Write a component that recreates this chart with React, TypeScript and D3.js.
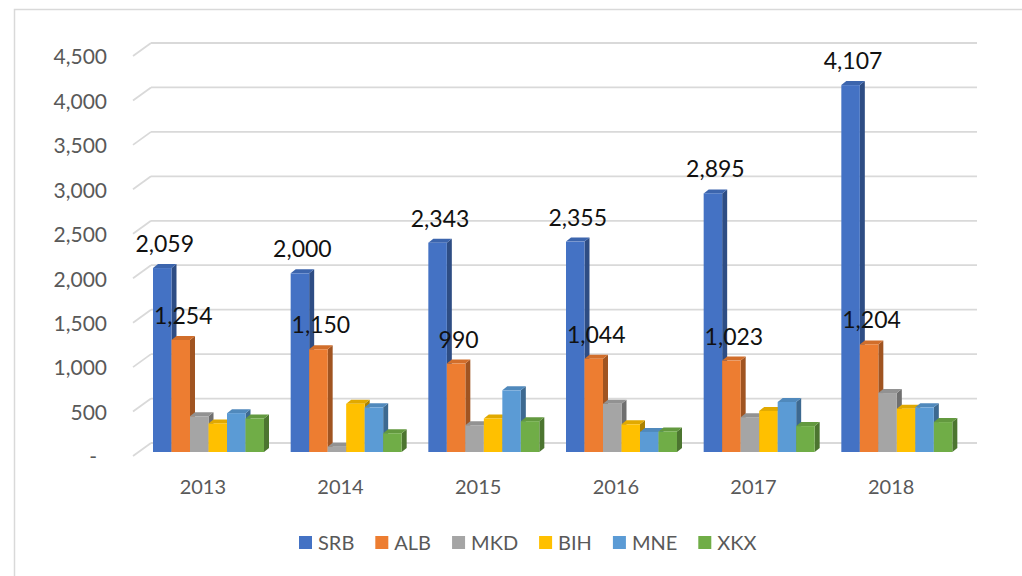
import React, { useEffect, useRef } from 'react';
import * as d3 from 'd3';

// chart data
const years = ['2013', '2014', '2015', '2016', '2017', '2018'];
const seriesNames = ['SRB', 'ALB', 'MKD', 'BIH', 'MNE', 'XKX'];
const srbValues = [2059, 2000, 2343, 2355, 2895, 4107];
const albValues = [1254, 1150, 990, 1044, 1023, 1204];
const mkdValues = [400, 60, 300, 540, 390, 660];
const bihValues = [320, 540, 375, 310, 460, 485];
const mneValues = [435, 500, 690, 225, 560, 500];
const xkxValues = [375, 210, 345, 230, 290, 335];
const yTicks = [0, 500, 1000, 1500, 2000, 2500, 3000, 3500, 4000, 4500];
const seriesColors = ['#4472C4', '#ED7D31', '#A5A5A5', '#FFC000', '#5B9BD5', '#70AD47'];
const labelledSeries = ['SRB', 'ALB'];

const allValues = [srbValues, albValues, mkdValues, bihValues, mneValues, xkxValues];

function ColumnChart3D() {
  const svgRef = useRef<SVGSVGElement>(null);

  useEffect(() => {
    const svg = d3.select(svgRef.current);
    svg.selectAll('*').remove();

    const width = 1022;
    const height = 576;
    const font = 'Lato, "Open Sans", sans-serif';
    const axisColor = '#595959';
    const gridColor = '#d9d9d9';

    svg.attr('width', width).attr('height', height);

    // background + chart border
    svg.append('rect').attr('width', width).attr('height', height).attr('fill', '#fff');
    svg.append('rect')
      .attr('x', 14.5).attr('y', 9.5)
      .attr('width', width).attr('height', height)
      .attr('fill', 'none')
      .attr('stroke', gridColor)
      .attr('stroke-width', 1.5);

    // scales
    const x = d3.scaleBand().domain(years).range([134, 960]);
    const yBack = d3.scaleLinear().domain([0, 4500]).range([443, 43]);
    const yBar = d3.scaleLinear().domain([0, 4500]).range([452, 50]);

    // 3D offsets
    const wallDx = 18;
    const wallDy = 13;
    const barW = 18.5;
    const barDx = 5;
    const barDy = 4;
    const groupOffset = 19;

    // gridlines: diagonal on the left side wall + line on the back wall
    const grid = svg.append('g');
    yTicks.forEach(v => {
      const yb = yBack(v);
      grid.append('line')
        .attr('x1', 133).attr('y1', yb + wallDy)
        .attr('x2', 133 + wallDx).attr('y2', yb)
        .attr('stroke', gridColor).attr('stroke-width', 1.8);
      grid.append('line')
        .attr('x1', 133 + wallDx).attr('y1', yb)
        .attr('x2', 977).attr('y2', yb)
        .attr('stroke', gridColor).attr('stroke-width', 1.8);
    });

    // y-axis labels
    svg.append('g')
      .selectAll('text')
      .data(yTicks)
      .join('text')
      .attr('x', d => (d === 0 ? 97 : 107))
      .attr('y', d => yBack(d) + 14)
      .attr('dy', '0.35em')
      .attr('text-anchor', 'end')
      .attr('font-family', font)
      .attr('font-size', 21)
      .attr('fill', axisColor)
      .text(d => (d === 0 ? '-' : d3.format(',')(d)));

    // bars
    const bars = svg.append('g');
    const labels: { x: number; y: number; text: string }[] = [];
    years.forEach((year, yi) => {
      seriesNames.forEach((name, si) => {
        const v = allValues[si][yi];
        const x0 = (x(year) as number) + groupOffset + si * barW;
        const y0 = yBar(0);
        const yt = yBar(v);
        const base = d3.color(seriesColors[si]) as d3.RGBColor;
        const topColor = base.darker(0.35).formatHex();
        const sideColor = base.darker(1.1).formatHex();

        // side face
        bars.append('polygon')
          .attr('points', [
            [x0 + barW, yt], [x0 + barW + barDx, yt - barDy],
            [x0 + barW + barDx, y0 - barDy], [x0 + barW, y0]
          ].map(p => p.join(',')).join(' '))
          .attr('fill', sideColor);
        // top face
        bars.append('polygon')
          .attr('points', [
            [x0, yt], [x0 + barDx, yt - barDy],
            [x0 + barW + barDx, yt - barDy], [x0 + barW, yt]
          ].map(p => p.join(',')).join(' '))
          .attr('fill', topColor);
        // front face
        bars.append('rect')
          .attr('x', x0).attr('y', yt)
          .attr('width', barW).attr('height', y0 - yt)
          .attr('fill', seriesColors[si]);

        if (labelledSeries.includes(name)) {
          labels.push({ x: x0 + (barW + barDx) / 2, y: yt - 16, text: d3.format(',')(v) });
        }
      });
    });

    // data labels
    svg.append('g')
      .selectAll('text')
      .data(labels)
      .join('text')
      .attr('x', d => d.x)
      .attr('y', d => d.y)
      .attr('text-anchor', 'middle')
      .attr('font-family', font)
      .attr('font-size', 23)
      .attr('fill', '#111')
      .text(d => d.text);

    // category labels
    svg.append('g')
      .selectAll('text')
      .data(years)
      .join('text')
      .attr('x', d => (x(d) as number) + x.bandwidth() / 2)
      .attr('y', 487)
      .attr('dy', '0.35em')
      .attr('text-anchor', 'middle')
      .attr('font-family', font)
      .attr('font-size', 20)
      .attr('fill', axisColor)
      .text(d => d);

    // legend
    const legend = svg.append('g');
    let lx = 299;
    seriesNames.forEach((name, si) => {
      legend.append('rect')
        .attr('x', lx).attr('y', 536)
        .attr('width', 13).attr('height', 13)
        .attr('fill', seriesColors[si]);
      const t = legend.append('text')
        .attr('x', lx + 19).attr('y', 543)
        .attr('dy', '0.35em')
        .attr('font-family', font)
        .attr('font-size', 20)
        .attr('fill', axisColor)
        .text(name);
      const w = (t.node() as SVGTextElement).getComputedTextLength();
      lx = lx + 19 + w + 21;
    });
  }, []);

  return <svg ref={svgRef} style={{ position: 'absolute', left: 0, top: 0, display: 'block' }} />;
}

export default function App() {
  return <ColumnChart3D />;
}
